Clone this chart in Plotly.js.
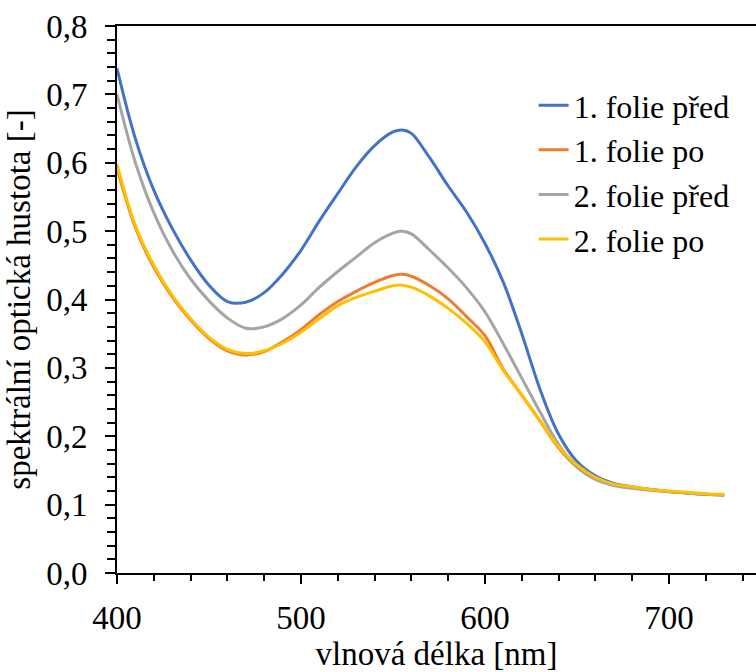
<!DOCTYPE html>
<html>
<head>
<meta charset="utf-8">
<script src="https://cdn.plot.ly/plotly-3.0.1.min.js"></script>
<style>html,body{margin:0;padding:0;background:#fff;}#chart{width:756px;height:672px;}
#chart svg text{font-family:'Liberation Serif' !important;}
#pre{position:absolute;left:0;top:0;font-family:'Liberation Serif';font-size:33px;color:#fff;opacity:0;pointer-events:none;}</style>
</head>
<body>
<div id="pre">0,8 folie před vlnová délka</div>
<div id="chart"></div>
<script>
const wavelength = [400,410,420,430,440,450,460,470,480,490,500,510,520,530,540,550,555,560,570,580,590,600,610,620,630,640,650,660,670,680,690,700,710,720,730];
const folie1Pred = [0.738,0.635,0.560,0.504,0.458,0.421,0.397,0.396,0.410,0.437,0.472,0.515,0.555,0.594,0.625,0.645,0.648,0.643,0.607,0.566,0.528,0.482,0.425,0.350,0.268,0.203,0.163,0.142,0.131,0.126,0.122,0.119,0.117,0.115,0.114];
const folie1Po = [0.592,0.505,0.447,0.404,0.370,0.343,0.325,0.319,0.324,0.338,0.356,0.378,0.397,0.412,0.425,0.435,0.437,0.434,0.420,0.401,0.375,0.347,0.298,0.260,0.222,0.183,0.155,0.138,0.129,0.125,0.122,0.119,0.117,0.115,0.114];
const folie2Pred = [0.700,0.600,0.527,0.472,0.430,0.398,0.373,0.358,0.360,0.372,0.392,0.418,0.441,0.462,0.483,0.497,0.500,0.496,0.472,0.446,0.417,0.382,0.335,0.285,0.235,0.188,0.155,0.137,0.128,0.124,0.121,0.119,0.117,0.115,0.114];
const folie2Po = [0.598,0.508,0.450,0.406,0.372,0.345,0.327,0.321,0.325,0.336,0.352,0.372,0.391,0.403,0.412,0.420,0.421,0.418,0.405,0.387,0.365,0.338,0.296,0.260,0.222,0.185,0.158,0.140,0.130,0.126,0.122,0.120,0.118,0.116,0.115];
const seriesNames = ["1. folie před","1. folie po","2. folie před","2. folie po"];
const seriesColors = ["#4472C4","#ED7D31","#A5A5A5","#FFC000"];
const seriesValues = [folie1Pred, folie1Po, folie2Pred, folie2Po];

const fam = "Liberation Serif";
const traces = seriesValues.map((v,i)=>({
  x: wavelength, y: v, type: "scatter", mode: "lines", name: seriesNames[i],
  line: {color: seriesColors[i], width: 3, shape: "spline", smoothing: 1}
}));

const layout = {
  width: 756, height: 672,
  margin: {l:117, r:0, t:26, b:99},
  paper_bgcolor: "#fff", plot_bgcolor: "#fff",
  separators: ", ",
  font: {family: fam, size: 33, color: "#000"},
  showlegend: true,
  legend: {x: 0.652, y: 0.905, xanchor: "left", yanchor: "top", bgcolor: "rgba(0,0,0,0)", tracegroupgap: 0,
           font: {family: fam, size: 32, color: "#000"}},
  xaxis: {
    range: [400, 747.3], showgrid: false, zeroline: false,
    showline: true, linecolor: "#000", linewidth: 2, mirror: true,
    ticks: "outside", ticklen: 9, tickwidth: 2, tickcolor: "#000",
    tick0: 400, dtick: 100, ticklabelstandoff: 5,
    minor: {ticks: "outside", ticklen: 6, tickwidth: 2, tickcolor: "#000", dtick: 20, showgrid: false},
    tickfont: {family: fam, size: 33, color: "#000"},
    title: {text: "vlnová délka [nm]", font: {family: fam, size: 33, color: "#000"}, standoff: 8}
  },
  yaxis: {
    range: [0, 0.8], showgrid: false, zeroline: false,
    showline: true, linecolor: "#000", linewidth: 2,
    ticks: "outside", ticklen: 10, tickwidth: 2, tickcolor: "#000",
    tick0: 0, dtick: 0.1, tickformat: ".1f", ticklabelstandoff: 11,
    minor: {ticks: "outside", ticklen: 8, tickwidth: 2, tickcolor: "#000", dtick: 0.02, showgrid: false},
    tickfont: {family: fam, size: 33, color: "#000"},
    title: {text: "spektrální optická hustota [-]", font: {family: fam, size: 33, color: "#000"}, standoff: 6}
  }
};
Plotly.newPlot("chart", traces, layout, {displayModeBar: false, staticPlot: true});
</script>
</body>
</html>
